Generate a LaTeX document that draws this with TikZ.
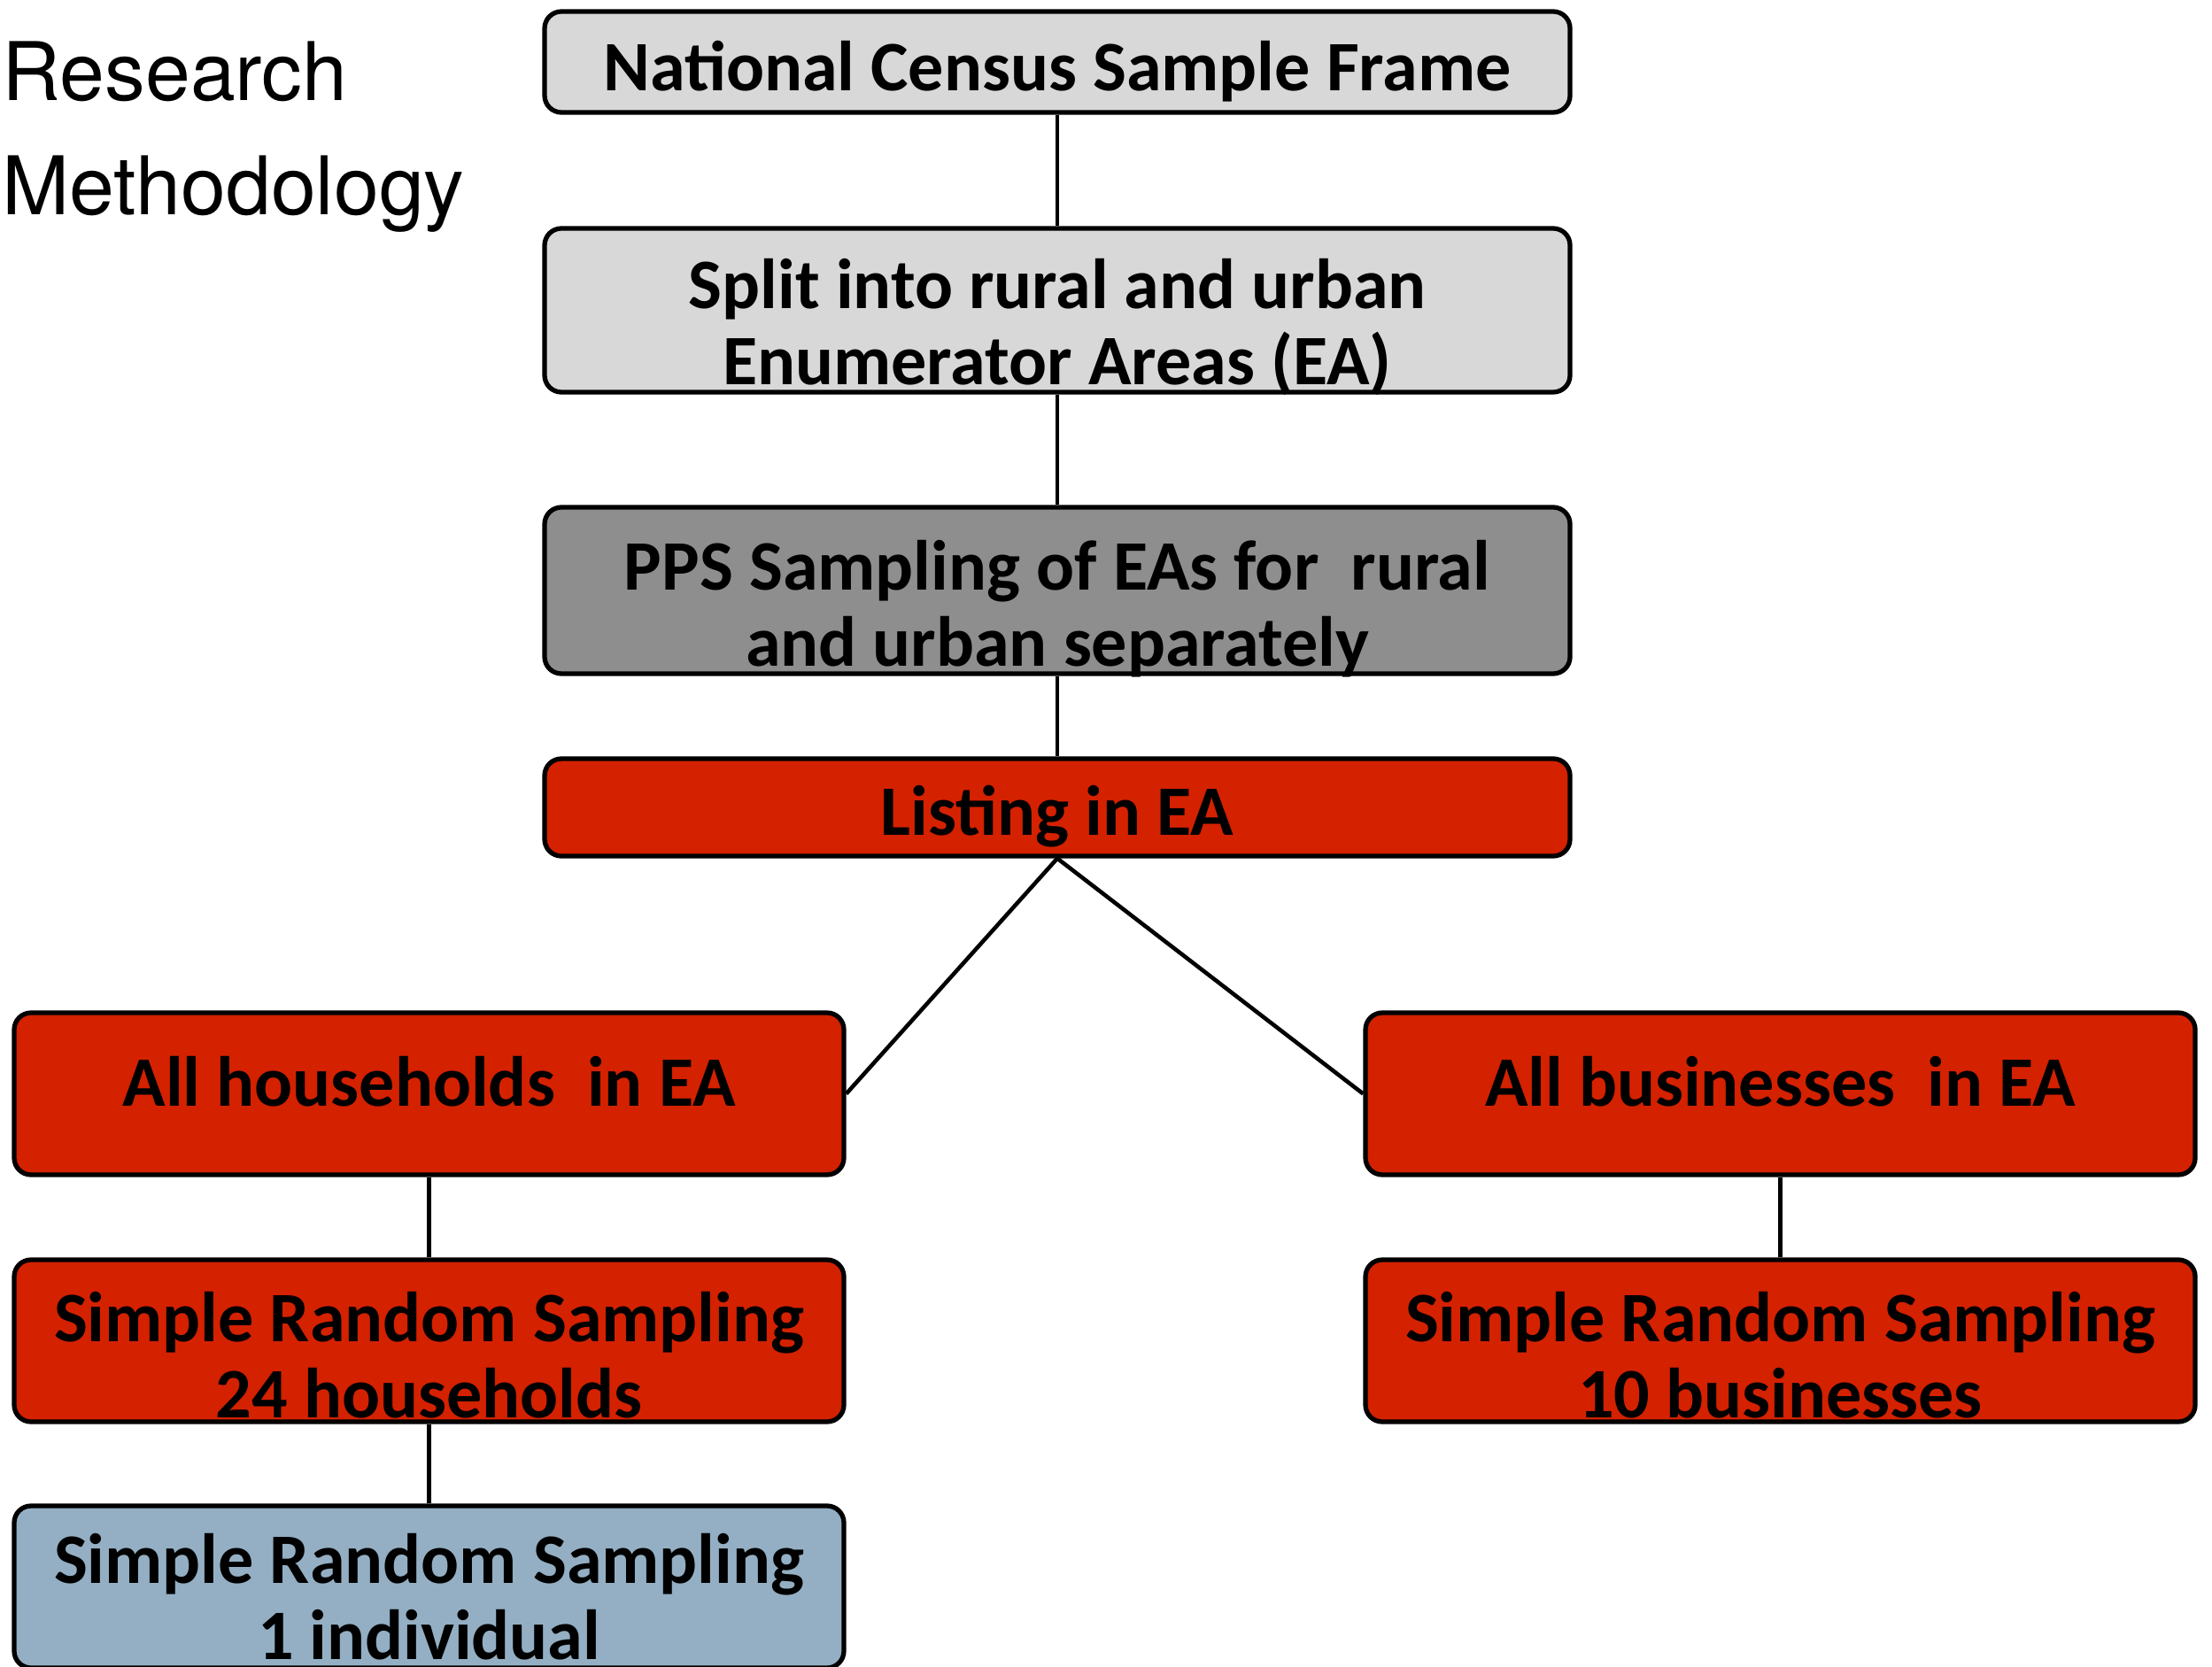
\documentclass[tikz,border=0pt]{standalone}
\usepackage{fontspec}
\usepackage{xcolor}
\usepackage{tikz}
\setsansfont{TeX Gyre Heros}
\newfontfamily\boxfont{Carlito}

\definecolor{lightgrey}{RGB}{216,216,216}
\definecolor{midgrey}{RGB}{142,142,142}
\definecolor{samplered}{RGB}{212,33,0}
\definecolor{paleblue}{RGB}{148,175,195}

\tikzset{
  stepbox/.style={draw=black, line width=1.5pt, rounded corners=0.19cm,
    minimum width=11.58cm, inner sep=0pt},
  sidebox/.style={stepbox, minimum width=9.37cm},
  boxtext/.style={inner sep=0pt, align=center,
    font=\boxfont\bfseries\fontsize{22.8}{24.5}\selectfont},
  link/.style={line width=1.3pt, black}
}

\begin{document}
\begin{tikzpicture}
    \useasboundingbox (0,0) rectangle (24.98,-18.83);

    % title
    \node[anchor=north west, inner sep=0pt, align=left,
          font=\sffamily\fontsize{26}{36.9}\selectfont] (title) at (0.02,-0.46)
          {Research\\Methodology};

    % main column
    \node[stepbox, fill=lightgrey, minimum height=1.14cm] (frame) at (11.94,-0.70) {};
    \node[stepbox, fill=lightgrey, minimum height=1.85cm] (split) at (11.94,-3.505) {};
    \node[stepbox, fill=midgrey, minimum height=1.88cm] (pps) at (11.94,-6.67) {};
    \node[stepbox, fill=samplered, minimum height=1.10cm] (listing) at (11.94,-9.12) {};

    \node[boxtext, yshift=-0.11cm] (frametext) at (frame) {National Census Sample Frame};
    \node[boxtext, yshift=-0.19cm] (splittext) at (split)
          {Split into rural and urban\\Enumerator Areas (EA)};
    \node[boxtext, yshift=-0.21cm] (ppstext) at (pps)
          {PPS Sampling of EAs for\ \ rural\\and urban separately};
    \node[boxtext, yshift=-0.10cm] (listingtext) at (listing) {Listing in EA};

    % households branch
    \node[sidebox, fill=samplered, minimum height=1.83cm] (hh) at (4.845,-12.355) {};
    \node[sidebox, fill=samplered, minimum height=1.83cm] (srshh) at (4.845,-15.145) {};
    \node[sidebox, fill=paleblue, minimum height=1.83cm] (indiv) at (4.845,-17.925) {};

    \node[boxtext, yshift=0.14cm] (hhtext) at (hh) {All households\ \ in EA};
    \node[boxtext, yshift=-0.16cm] (srshhtext) at (srshh)
          {Simple Random Sampling\\24 households};
    \node[boxtext, yshift=-0.11cm] (indivtext) at (indiv)
          {Simple Random Sampling\\1 individual};

    % businesses branch
    \node[sidebox, fill=samplered, minimum height=1.83cm] (biz) at (20.105,-12.355) {};
    \node[sidebox, fill=samplered, minimum height=1.83cm] (srsbiz) at (20.105,-15.145) {};

    \node[boxtext, yshift=0.14cm] (biztext) at (biz) {All businesses\ \ in EA};
    \node[boxtext, yshift=-0.16cm] (srsbiztext) at (srsbiz)
          {Simple Random Sampling\\10 businesses};

    \draw[link] (frame) -- (split);
    \draw[link] (split) -- (pps);
    \draw[link] (pps) -- (listing);
    \draw[link] (listing.south) -- (hh.east);
    \draw[link] (listing.south) -- (biz.west);
    \draw[link] (hh) -- (srshh);
    \draw[link] (srshh) -- (indiv);
    \draw[link] (biz) -- (srsbiz);
\end{tikzpicture}
\end{document}
